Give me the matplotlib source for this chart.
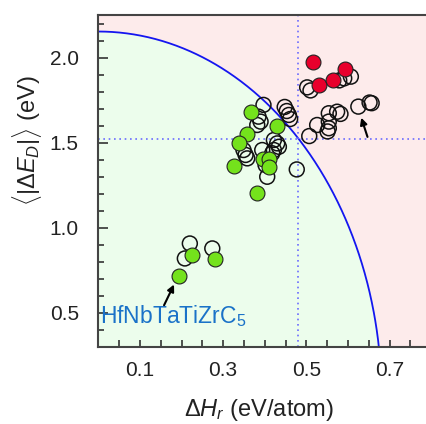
import numpy as np
import matplotlib
matplotlib.use('Agg')
import matplotlib.pyplot as plt
from matplotlib.ticker import MultipleLocator, FixedLocator

plt.rcParams['font.family'] = ['Liberation Sans', 'DejaVu Sans']
plt.rcParams['mathtext.fontset'] = 'custom'
plt.rcParams['mathtext.rm'] = 'Liberation Sans'
plt.rcParams['mathtext.it'] = 'Liberation Sans:italic'

# open circles (all compositions)
open_x = [0.220, 0.208, 0.274,
          0.502, 0.510, 0.579, 0.591, 0.607, 0.554, 0.574, 0.582, 0.526, 0.554,
          0.554, 0.551, 0.507, 0.625, 0.652, 0.657,
          0.397, 0.448, 0.453, 0.458, 0.461,
          0.385, 0.390, 0.382, 0.349, 0.354, 0.358, 0.394, 0.422, 0.430, 0.434,
          0.422, 0.418, 0.402, 0.406, 0.477]
open_y = [0.908, 0.820, 0.879,
          1.825, 1.807, 1.866, 1.878, 1.888, 1.673, 1.682, 1.669, 1.604, 1.624,
          1.585, 1.566, 1.539, 1.712, 1.736, 1.732,
          1.722, 1.710, 1.686, 1.663, 1.639,
          1.653, 1.624, 1.604, 1.457, 1.428, 1.408, 1.457, 1.516, 1.496, 1.476,
          1.457, 1.438, 1.369, 1.300, 1.343]

# synthesized (green) and not synthesized (red)
green_x = [0.368, 0.429, 0.358, 0.338, 0.326, 0.395, 0.410, 0.410, 0.381,
           0.195, 0.226, 0.280]
green_y = [1.680, 1.598, 1.554, 1.498, 1.363, 1.402, 1.407, 1.357, 1.206,
           0.718, 0.839, 0.816]
red_x = [0.516, 0.530, 0.565, 0.594]
red_y = [1.973, 1.839, 1.869, 1.932]

# elliptic boundary and threshold lines
ell_a, ell_b = 0.681, 2.153
x_cut, y_cut = 0.480, 1.52

fig = plt.figure(figsize=(4.27, 4.24), dpi=100)
ax = fig.add_axes([0.2302, 0.1816, 0.7698, 0.783])
ax.set_facecolor('#fdebeb')

xe = np.linspace(0, ell_a, 400)
ye = ell_b * np.sqrt(np.clip(1 - (xe / ell_a) ** 2, 0, None))
ax.fill_between(xe, 0, ye, color='#ecfdec', zorder=0)
ax.plot(xe, ye, color='#1515f0', lw=1.3, zorder=1)

ax.axvline(x_cut, color='#6b6bff', ls=(0, (1, 2.2)), lw=1.2, zorder=1)
ax.axhline(y_cut, color='#6b6bff', ls=(0, (1, 2.2)), lw=1.2, zorder=1)

ax.scatter(open_x, open_y, s=115, facecolors='none', edgecolors='#111111',
           linewidths=1.1, zorder=2)
ax.scatter(green_x, green_y, s=115, color='#74e21c', edgecolors='#222222',
           linewidths=0.8, zorder=3)
ax.scatter(red_x, red_y, s=115, color='#e8002c', edgecolors='#222222',
           linewidths=0.8, zorder=3)

arrow = dict(arrowstyle='-|>', color='k', lw=1.5, mutation_scale=10,
             shrinkA=0, shrinkB=0)
ax.annotate('', xy=(0.182, 0.667), xytext=(0.158, 0.545), arrowprops=arrow, zorder=4)
ax.annotate('', xy=(0.632, 1.647), xytext=(0.647, 1.534), arrowprops=arrow, zorder=4)
ax.text(0.004, 0.48, r'HfNbTaTiZrC$_5$', color='#1a72c8', fontsize=16.5,
        va='center', ha='left', zorder=4)

ax.set_xlim(0, 0.79)
ax.set_ylim(0.3, 2.25)
ax.xaxis.set_major_locator(FixedLocator([0.1, 0.3, 0.5, 0.7]))
ax.xaxis.set_minor_locator(MultipleLocator(0.05))
ax.yaxis.set_major_locator(FixedLocator([0.5, 1.0, 1.5, 2.0]))
ax.yaxis.set_minor_locator(MultipleLocator(0.1))
ax.set_xticklabels(['0.1', '0.3', '0.5', '0.7'])
ax.set_yticklabels(['0.5', '1.0', '1.5', '2.0'])
ax.tick_params(which='both', direction='in', colors='#333333', labelcolor='#222222',
               labelsize=15, top=False, right=False)
ax.tick_params(axis='x', which='major', length=5, width=1.2, pad=10)
ax.tick_params(axis='x', which='minor', length=5, width=1.2)
ax.tick_params(axis='y', which='major', length=7, width=1.2, pad=14)
ax.tick_params(axis='y', which='minor', length=4, width=1.2)

for side in ['left', 'bottom', 'top']:
    ax.spines[side].set_color('#444444')
    ax.spines[side].set_linewidth(1.5)
ax.spines['right'].set_visible(False)

ax.set_xlabel(r'$\Delta H_r$ (eV/atom)', fontsize=17, color='#222222')
ax.set_ylabel(r'$\langle|\Delta E_D|\rangle$ (eV)', fontsize=17, color='#222222')
ax.xaxis.set_label_coords(0.49, -0.15)
ax.yaxis.set_label_coords(-0.165, 0.62)

fig.savefig('out.png', dpi=100)
